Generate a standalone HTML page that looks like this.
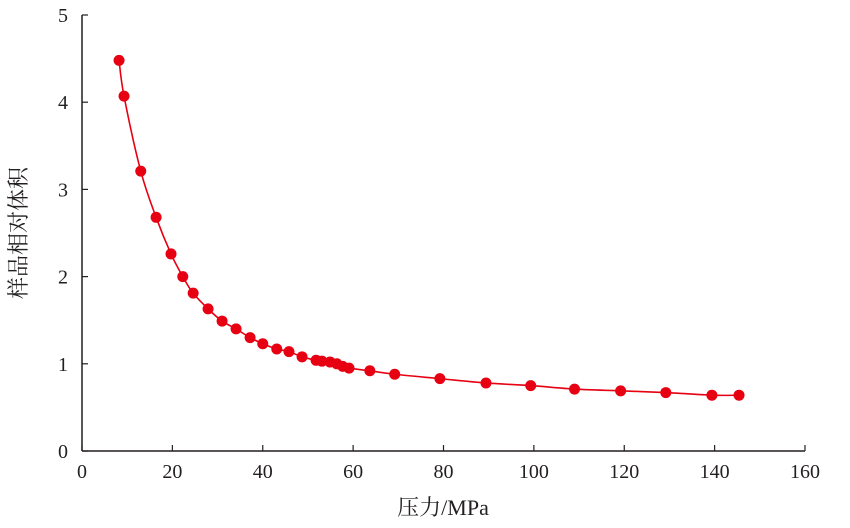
<!DOCTYPE html>
<html><head><meta charset="utf-8"><style>
html,body{margin:0;padding:0;background:#fff;}
svg{display:block;font-family:"Liberation Serif","Noto Serif CJK SC",serif;}
</style></head><body>
<svg id="chart" width="850" height="528" viewBox="0 0 850 528" xmlns="http://www.w3.org/2000/svg">
<g id="axes"></g>
<g id="series"></g>
<text transform="translate(26,233) rotate(-90)" text-anchor="middle" font-size="22" fill="#231f20">样品相对体积</text>
<text x="443" y="515" text-anchor="middle" font-size="22" fill="#231f20">压力/MPa</text>
</svg>
<script>
const pressure=[8.2,9.3,13.0,16.4,19.7,22.3,24.6,27.9,31.0,34.1,37.2,40.0,43.1,45.8,48.7,51.8,53.1,54.9,56.4,57.7,59.1,63.7,69.2,79.2,89.4,99.3,109,119.2,129.2,139.4,145.4];
const volume=[4.48,4.07,3.21,2.68,2.26,2.0,1.81,1.63,1.49,1.40,1.30,1.23,1.17,1.14,1.08,1.04,1.03,1.02,1.0,0.97,0.95,0.92,0.88,0.83,0.78,0.75,0.71,0.69,0.67,0.64,0.64];
const xTicks=[0,20,40,60,80,100,120,140,160];
const yTicks=[0,1,2,3,4,5];
const NS="http://www.w3.org/2000/svg";
const X0=82,X1=805,Y0=451,Y1=15;
const xs=v=>X0+(v-0)/(160-0)*(X1-X0);
const ys=v=>Y0-(v-0)/(5-0)*(Y0-Y1);
function mk(tag,attrs,parent){const e=document.createElementNS(NS,tag);for(const k in attrs)e.setAttribute(k,attrs[k]);parent.appendChild(e);return e;}
const ax=document.getElementById('axes');
let l=mk('line',{x1:X0,y1:Y0,x2:X1,y2:Y0,stroke:'#231f20','stroke-width':1.5},ax);


l=mk('line',{x1:X0,y1:Y0,x2:X0,y2:Y1,stroke:'#231f20','stroke-width':1.5},ax);


xTicks.forEach(t=>{
  const x=xs(t);
  const tk=mk('line',{x1:x,y1:Y0,x2:x,y2:Y0-6,stroke:'#231f20','stroke-width':1.2},ax);
  
  
  const tx=mk('text',{x:x,y:Y0+27,'text-anchor':'middle','font-size':20,fill:'#231f20'},ax);
  tx.textContent=t;
  
  
});
yTicks.forEach(t=>{
  const y=ys(t);
  const tk=mk('line',{x1:X0,y1:y,x2:X0+6,y2:y,stroke:'#231f20','stroke-width':1.2},ax);
  
  
  const tx=mk('text',{x:X0-14,y:y+7,'text-anchor':'end','font-size':20,fill:'#231f20'},ax);
  tx.textContent=t;
  
  
});
const sg=document.getElementById('series');
const pts=pressure.map((p,i)=>[xs(p),ys(volume[i])]);
let d='M'+pts[0][0]+','+pts[0][1];
for(let i=0;i<pts.length-1;i++){
  const p0=pts[i-1]||pts[i],p1=pts[i],p2=pts[i+1],p3=pts[i+2]||p2;
  const c1=[p1[0]+(p2[0]-p0[0])/6,p1[1]+(p2[1]-p0[1])/6];
  const c2=[p2[0]-(p3[0]-p1[0])/6,p2[1]-(p3[1]-p1[1])/6];
  d+=' C'+c1[0]+','+c1[1]+' '+c2[0]+','+c2[1]+' '+p2[0]+','+p2[1];
}
const path=mk('path',{d:d,fill:'none',stroke:'#e60012','stroke-width':1.6},sg);


pts.forEach(p=>{
  const c=mk('circle',{cx:p[0],cy:p[1],r:5.5,fill:'#e60012'},sg);
  
  
});
</script>
</body></html>
